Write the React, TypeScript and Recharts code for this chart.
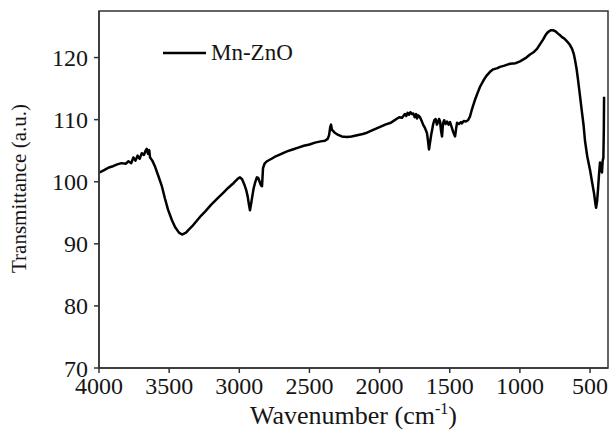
import React from "react";
import {
  LineChart,
  Line,
  XAxis,
  YAxis,
  ReferenceArea,
  Legend,
  Label,
} from "recharts";

// FTIR spectrum of Mn-doped ZnO: wavenumber (cm-1) and transmittance (a.u.)
const wavenumbers: number[] = [
  3995, 3960, 3930, 3900, 3870, 3840, 3810, 3790, 3770, 3755, 3740, 3725, 3710,
  3695, 3680, 3668, 3660, 3650, 3642, 3636, 3620, 3600, 3575, 3551, 3530, 3508,
  3480, 3458, 3430, 3408, 3380, 3360, 3337, 3300, 3270, 3244, 3200, 3152, 3120,
  3080, 3040, 3010, 2995, 2980, 2965, 2950, 2940, 2931, 2924, 2916, 2909, 2898,
  2888, 2875, 2865, 2855, 2845, 2838, 2831, 2820, 2803, 2770, 2740, 2700, 2660,
  2620, 2580, 2540, 2500, 2460, 2420, 2390, 2370, 2360, 2352, 2346, 2340, 2332,
  2320, 2300, 2270, 2232, 2200, 2160, 2120, 2090, 2050, 2000, 1960, 1920, 1900,
  1880, 1860, 1840, 1820, 1810, 1800, 1790, 1780, 1770, 1760, 1750, 1740, 1733,
  1725, 1712, 1700, 1690, 1680, 1670, 1662, 1655, 1648, 1640, 1632, 1626, 1618,
  1610, 1600, 1592, 1584, 1576, 1569, 1562, 1555, 1548, 1540, 1530, 1519, 1508,
  1498, 1488, 1477, 1468, 1462, 1455, 1448, 1435, 1420, 1413, 1400, 1385, 1370,
  1356, 1345, 1334, 1320, 1300, 1284, 1260, 1240, 1213, 1190, 1160, 1142, 1110,
  1070, 1030, 999, 960, 928, 900, 878, 855, 835, 815, 800, 780, 764, 745, 730,
  714, 700, 685, 664, 645, 628, 615, 607, 596, 586, 572, 557, 546, 536, 520, 500,
  486, 472, 462, 457, 450, 443, 436, 429, 422, 415, 410, 405, 402, 400,
];

const transmittance: number[] = [
  101.5, 101.9, 102.3, 102.5, 102.8, 103.0, 102.9, 103.3, 103.0, 103.9, 103.4,
  104.2, 103.7, 104.6, 104.3, 105.0, 105.3, 104.5, 105.1, 103.9, 103.4, 102.4,
  100.8, 99.2, 97.3, 95.5, 93.8, 92.7, 91.8, 91.5, 91.8, 92.3, 92.8, 93.8, 94.6,
  95.2, 96.3, 97.4, 98.1, 99.0, 99.8, 100.5, 100.7, 100.4, 99.6, 98.6, 97.6,
  96.3, 95.4, 96.4, 97.4, 98.9, 99.8, 100.7, 100.6, 100.0, 99.4, 99.3, 102.2,
  102.9, 103.3, 103.7, 104.1, 104.5, 104.9, 105.2, 105.5, 105.8, 106.0, 106.3,
  106.5, 106.6, 106.9, 107.5, 108.8, 109.2, 108.4, 108.2, 107.9, 107.6, 107.3,
  107.2, 107.3, 107.5, 107.7, 107.9, 108.3, 108.8, 109.2, 109.5, 109.8, 110.1,
  110.4, 110.3, 110.9, 110.6, 111.1, 110.8, 111.2, 110.9, 111.0, 110.4, 110.9,
  110.2, 110.7, 110.4, 109.8, 109.2, 108.8, 108.3, 107.8, 106.6, 105.2, 106.4,
  107.6, 108.3, 109.3, 109.9, 110.1, 109.2, 109.6, 110.1, 109.7, 108.2, 107.3,
  109.4, 109.9, 109.3, 109.7, 109.2, 109.6, 108.9, 108.1, 107.6, 107.3, 108.5,
  109.5, 109.3, 109.6, 109.4, 109.8, 109.7, 109.9, 110.5, 111.4, 112.2, 113.2,
  114.4, 115.3, 116.3, 117.0, 117.7, 118.1, 118.3, 118.5, 118.7, 119.0, 119.1,
  119.4, 119.9, 120.5, 120.9, 121.4, 122.2, 122.9, 123.7, 124.1, 124.4, 124.4,
  124.2, 123.9, 123.6, 123.3, 123.1, 122.6, 122.1, 121.4, 120.5, 119.6, 118.2,
  116.5, 113.9, 111.1, 109.1, 106.6, 104.1, 101.9, 100.0, 98.2, 96.5, 95.8,
  96.8, 98.8, 101.2, 103.1, 102.3, 101.5, 103.4, 103.8, 108.0, 113.7,
];

const xTicks: number[] = [4000, 3500, 3000, 2500, 2000, 1500, 1000, 500];
const yTicks: number[] = [70, 80, 90, 100, 110, 120];

const seriesName = "Mn-ZnO";

const data = wavenumbers.map((wn, i) => ({ wn, t: transmittance[i] }));

const FONT = "'Liberation Serif', 'Times New Roman', serif";
const INK = "#151515";
const AXIS = "#333333";

const XTitle = (props: any) => {
  const { viewBox } = props;
  const cx = viewBox.x + viewBox.width / 2;
  return (
    <text
      x={cx}
      y={424}
      textAnchor="middle"
      fontFamily={FONT}
      fontSize={26}
      fill={INK}
    >
      Wavenumber (cm
      <tspan fontSize={16} dy={-10}>
        -1
      </tspan>
      <tspan dy={10}>)</tspan>
    </text>
  );
};

const YTitle = (props: any) => {
  const { viewBox } = props;
  const cy = viewBox.y + viewBox.height / 2 - 1;
  return (
    <text
      x={26}
      y={cy}
      transform={`rotate(-90, 26, ${cy})`}
      textAnchor="middle"
      fontFamily={FONT}
      fontSize={21}
      fill={INK}
    >
      Transmittance (a.u.)
    </text>
  );
};

const LegendBox = () => (
  <div style={{ display: "flex", alignItems: "center" }}>
    <svg width={43} height={10}>
      <line x1={0} y1={5} x2={43} y2={5} stroke="#000" strokeWidth={2.5} />
    </svg>
    <span
      style={{
        fontFamily: FONT,
        fontSize: 23,
        color: INK,
        marginLeft: 5,
        lineHeight: "24px",
      }}
    >
      {seriesName}
    </span>
  </div>
);

export default function App() {
  return (
    <div style={{ position: "absolute", left: 0, top: 0, background: "#fff" }}>
      <LineChart
        width={610}
        height={437}
        data={data}
        margin={{ top: 11, right: 2, left: 0, bottom: 0 }}
      >
        <XAxis
          dataKey="wn"
          type="number"
          domain={[372, 4000]}
          reversed
          ticks={xTicks}
          interval={0}
          height={69}
          tickSize={5}
          tickMargin={4}
          axisLine={{ stroke: AXIS, strokeWidth: 1.5 }}
          tickLine={{ stroke: AXIS, strokeWidth: 1.5 }}
          tick={{ fontFamily: FONT, fontSize: 24, fill: INK }}
          allowDataOverflow
        >
          <Label content={<XTitle />} />
        </XAxis>
        <YAxis
          type="number"
          domain={[70, 127.5]}
          ticks={yTicks}
          interval={0}
          width={99}
          tickSize={5}
          tickMargin={6}
          axisLine={{ stroke: AXIS, strokeWidth: 1.5 }}
          tickLine={{ stroke: AXIS, strokeWidth: 1.5 }}
          tick={{ fontFamily: FONT, fontSize: 24, fill: INK }}
          allowDataOverflow
        >
          <Label content={<YTitle />} />
        </YAxis>
        <ReferenceArea
          x1={4000}
          x2={372}
          y1={70}
          y2={127.5}
          fill="none"
          stroke={AXIS}
          strokeWidth={1.5}
          ifOverflow="visible"
        />
        <Legend
          layout="horizontal"
          verticalAlign="middle"
          align="center"
          content={<LegendBox />}
          wrapperStyle={{ left: 163, top: 41, width: "auto", height: "auto" }}
        />
        <Line
          type="linear"
          dataKey="t"
          name={seriesName}
          stroke="#000"
          strokeWidth={2.5}
          strokeLinejoin="round"
          dot={false}
          isAnimationActive={false}
        />
      </LineChart>
    </div>
  );
}
